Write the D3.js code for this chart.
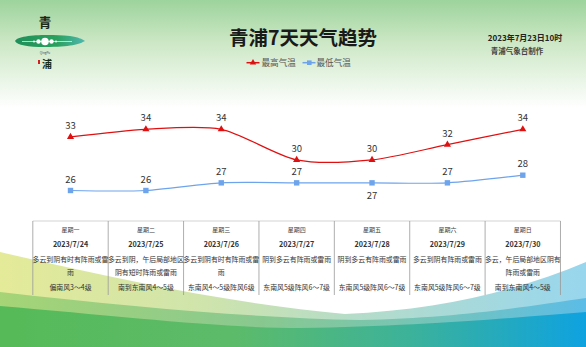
<!DOCTYPE html>
<html><head><meta charset="utf-8">
<script src="https://cdn.jsdelivr.net/npm/d3@7/dist/d3.min.js"></script>
<style>body{margin:0;padding:0;overflow:hidden;background:#fff}svg{display:block}</style>
</head><body>
<svg id="c" width="586" height="347"></svg>
<script>
const days = ["星期一","星期二","星期三","星期四","星期五","星期六","星期日"];
const dates = ["2023/7/24","2023/7/25","2023/7/26","2023/7/27","2023/7/28","2023/7/29","2023/7/30"];
const highTemps = [33,34,34,30,30,32,34];
const lowTemps = [26,26,27,27,27,27,28];
const weather = ["多云到阴有时有阵雨或雷雨","多云到阴，午后局部地区阴有短时阵雨或雷雨","多云到阴有时有阵雨或雷雨","阴到多云有阵雨或雷雨","阴到多云有阵雨或雷雨","多云到阴有阵雨或雷雨","多云，午后局部地区阴有阵雨或雷雨"];
const wind = ["偏南风3～4级","南到东南风4～5级","东南风4～5级阵风6级","东南风5级阵风6～7级","东南风5级阵风6～7级","东南风5级阵风6～7级","南到东南风4～5级"];
const seriesNames = ["最高气温","最低气温"];

const W=586,H=347;
const F='"Noto Sans CJK SC","Noto Sans",sans-serif';
const svg=d3.select("#c");
const defs=svg.append("defs");

// top background gradient
const tg=defs.append("linearGradient").attr("id","tg").attr("x1",0).attr("y1",0).attr("x2",0).attr("y2",1);
tg.append("stop").attr("offset","0").attr("stop-color","#9dd39c");
tg.append("stop").attr("offset","0.4").attr("stop-color","#cde8c6");
tg.append("stop").attr("offset","1").attr("stop-color","#ffffff");
svg.append("rect").attr("width",W).attr("height",H).attr("fill","#fff");
svg.append("rect").attr("width",W).attr("height",108).attr("fill","url(#tg)");

// bottom waves
function grad(id,stops){const g=defs.append("linearGradient").attr("id",id).attr("x1",0).attr("y1",0).attr("x2",1).attr("y2",0);
 stops.forEach(s=>g.append("stop").attr("offset",s[0]).attr("stop-color",s[1]));}
grad("w1",[[0,"#e4ea98"],[0.35,"#cfe4ac"],[0.6,"#b5dcc8"],[1,"#98d6ee"]]);
grad("w2",[[0,"#a6d476"],[0.45,"#88c890"],[0.75,"#74c4bc"],[1,"#5cbce6"]]);
grad("w3",[[0,"#56ba58"],[0.4,"#5cbb6a"],[0.7,"#3cb29a"],[1,"#0ea2e0"]]);
svg.append("path").attr("fill","url(#w1)")
 .attr("d","M0,252 C120,280 240,305 345,314 C440,310 520,290 586,262 L586,347 L0,347 Z");
svg.append("path").attr("fill","url(#w2)")
 .attr("d","M0,292 C140,308 260,318 360,320 C460,318 530,306 586,298 L586,347 L0,347 Z");
svg.append("path").attr("fill","url(#w3)")
 .attr("d","M0,306 C120,316 220,328 300,328 C420,326 510,318 586,312 L586,347 L0,347 Z");

// logo
const lg=defs.append("linearGradient").attr("id","lg").attr("x1",0).attr("y1",0).attr("x2",1).attr("y2",0);
lg.append("stop").attr("offset","0").attr("stop-color","#1f8f5a");
lg.append("stop").attr("offset","0.6").attr("stop-color","#2aa05e");
lg.append("stop").attr("offset","1").attr("stop-color","#4fb8b0");
svg.append("text").attr("x",45).attr("y",27).attr("text-anchor","middle").attr("font-family",F).attr("font-size",13).attr("font-weight","bold").attr("fill","#1a2a1a").text("青");
svg.append("path").attr("fill","url(#lg)").attr("d","M15,41 C18,35 45,34 70,36 C78,37 82,39 85,41 C80,44 70,47 45,47 C28,47 17,45 15,41 Z");
svg.append("line").attr("x1",22).attr("x2",72).attr("y1",41.5).attr("y2",41.5).attr("stroke","#e8fff0").attr("stroke-width",0.7);
[[45,41.5,3.8],[38.5,41.5,2.2],[51.5,41.5,2.2],[34,41.5,1.1],[56,41.5,1.1]].forEach(c=>svg.append("circle").attr("cx",c[0]).attr("cy",c[1]).attr("r",c[2]).attr("fill","#fff"));
svg.append("text").attr("x",45).attr("y",54).attr("text-anchor","middle").attr("font-family",F).attr("font-size",3).attr("fill","#445").text("QingPu");
svg.append("rect").attr("x",38).attr("y",60).attr("width",2).attr("height",4).attr("fill","#d02020");
svg.append("text").attr("x",47).attr("y",68).attr("text-anchor","middle").attr("font-family",F).attr("font-size",10).attr("font-weight","bold").attr("fill","#1a2a1a").text("浦");

// title
svg.append("text").attr("x",303).attr("y",45).attr("text-anchor","middle").attr("font-family",F).attr("font-size",19.5).attr("font-weight","bold").attr("fill","#1a1a1a").text("青浦7天天气趋势");
svg.append("text").attr("x",525).attr("y",40.5).attr("text-anchor","middle").attr("font-family",F).attr("font-size",8).attr("font-weight","bold").attr("fill","#222").text("2023年7月23日10时");
svg.append("text").attr("x",517).attr("y",53.5).attr("text-anchor","middle").attr("font-family",F).attr("font-size",7.5).attr("font-weight","bold").attr("fill","#444").text("青浦气象台制作");

// scales
const x=d3.scalePoint().domain(days).range([70.5,522.8]);
const y=d3.scaleLinear().domain([26,34]).range([190.5,129.3]);
const colors=["#e01010","#6ea4ec"];
const series=[highTemps,lowTemps];
const labelBelow=[[],[4]];
const line=d3.line().x((d,i)=>x(days[i])).y(d=>y(d)).curve(d3.curveCardinal.tension(0.2));

series.forEach((vals,si)=>{
 svg.append("path").attr("d",line(vals)).attr("fill","none").attr("stroke",colors[si]).attr("stroke-width",1.2);
 vals.forEach((v,i)=>{
  const px=x(days[i]),py=y(v);
  if(si===0) svg.append("path").attr("d",d3.symbol(d3.symbolTriangle,22)()).attr("transform",`translate(${px},${py})`).attr("fill",colors[si]);
  else svg.append("rect").attr("x",px-2.7).attr("y",py-2.7).attr("width",5.4).attr("height",5.4).attr("fill",colors[si]);
  const below=labelBelow[si].includes(i);
  svg.append("text").attr("x",px).attr("y",below?py+16:py-8).attr("text-anchor","middle").attr("font-family",F).attr("font-size",9.5).attr("fill","#333").text(v);
 });
});

// legend
const lgd=[{x:246.5,tx:261.5},{x:302.5,tx:316.5}];
seriesNames.forEach((n,si)=>{
 const L=lgd[si],ly=62.7;
 svg.append("line").attr("x1",L.x).attr("x2",L.x+13).attr("y1",ly).attr("y2",ly).attr("stroke",colors[si]).attr("stroke-width",1.5);
 if(si===0) svg.append("path").attr("d",d3.symbol(d3.symbolTriangle,18)()).attr("transform",`translate(${L.x+6.5},${ly})`).attr("fill",colors[si]);
 else svg.append("rect").attr("x",L.x+4.5).attr("y",ly-2.3).attr("width",4.6).attr("height",4.6).attr("fill",colors[si]);
 svg.append("text").attr("x",L.tx).attr("y",ly+3.2).attr("font-family",F).attr("font-size",8.6).attr("fill","#555").text(n);
});

// table
const step=x.step();
const tTop=221,tBot=295;
const left=x(days[0])-step/2,right=x(days[6])+step/2;
svg.append("line").attr("x1",left).attr("x2",right).attr("y1",tTop).attr("y2",tTop).attr("stroke","#c8c8c8").attr("stroke-width",0.8);
for(let i=0;i<=7;i++){
 const lx=left+i*step;
 svg.append("line").attr("x1",lx).attr("x2",lx).attr("y1",tTop).attr("y2",tBot).attr("stroke","#999").attr("stroke-width",0.8);
}
days.forEach((d,i)=>{
 const cx=x(d);
 svg.append("text").attr("x",cx).attr("y",232).attr("text-anchor","middle").attr("font-family",F).attr("font-size",6).attr("fill","#444").text(d);
 svg.append("text").attr("x",cx).attr("y",247).attr("text-anchor","middle").attr("font-family",F).attr("font-size",7.2).attr("font-weight","bold").attr("fill","#333").text(dates[i]);
 const w=weather[i];const lines=[];
 for(let k=0;k<w.length;k+=11) lines.push(w.slice(k,k+11));
 lines.forEach((t,li)=>svg.append("text").attr("x",cx).attr("y",261.5+li*13).attr("text-anchor","middle").attr("font-family",F).attr("font-size",6.9).attr("fill","#333").text(t));
 svg.append("text").attr("x",cx).attr("y",289.5).attr("text-anchor","middle").attr("font-family",F).attr("font-size",6.9).attr("fill","#333").text(wind[i]);
});
</script>
</body></html>
